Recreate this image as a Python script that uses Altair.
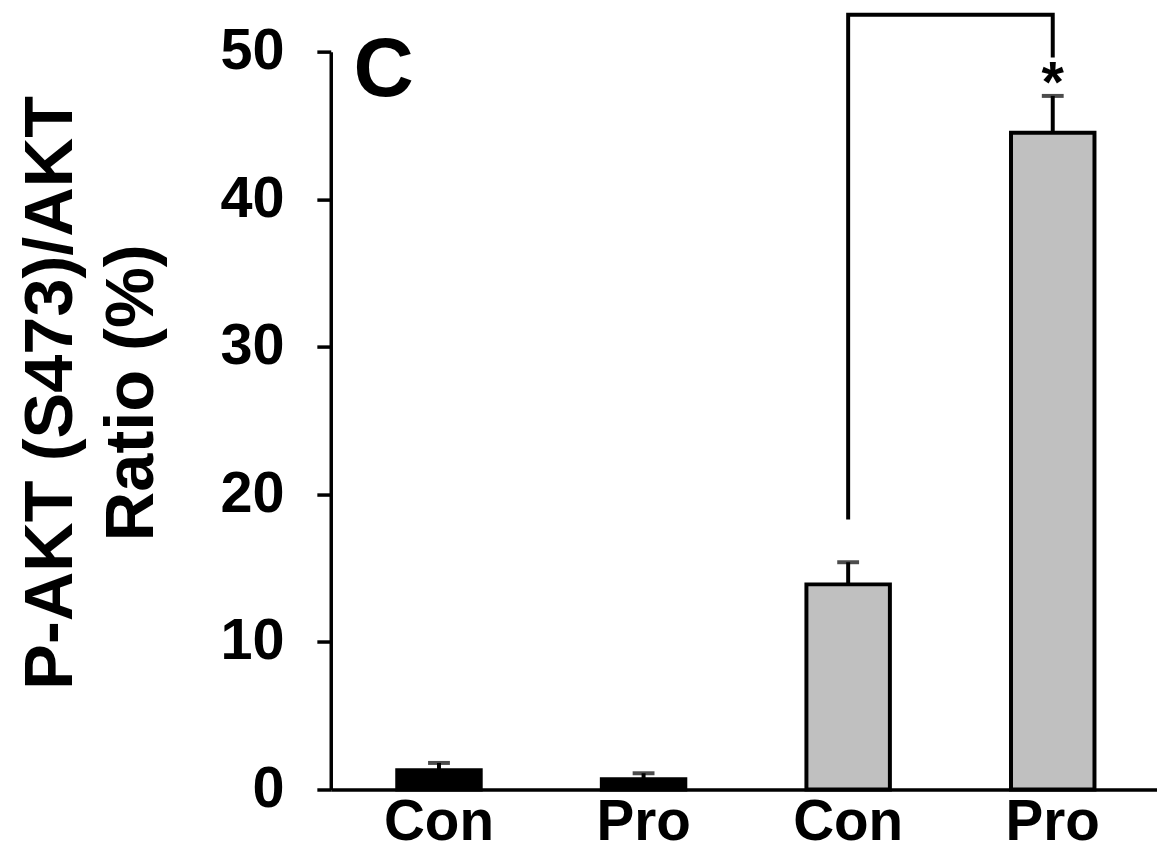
import json
import altair as alt
import pandas as pd

# ---- data ----
bar_ids = ["Con1", "Pro1", "Con2", "Pro2"]
bar_labels = ["Con", "Pro", "Con", "Pro"]
means = [1.3, 0.7, 13.9, 44.5]
errors = [0.5, 0.4, 1.5, 2.5]
fills = ["#000000", "#000000", "#c0c0c0", "#c0c0c0"]

bracket_ids = ["Con2", "Con2", "Pro2", "Pro2"]
bracket_vals = [18.3, 52.5, 52.5, 49.6]
star_ids = ["Pro2"]
star_vals = [48.3]
star_text = ["*"]

y_ticks = [0, 10, 20, 30, 40, 50]
y_title = ["P-AKT (S473)/AKT", "Ratio (%)"]
panel_label = "C"

FONT = "Liberation Sans"

bars = pd.DataFrame({
    "id": bar_ids,
    "label": bar_labels,
    "mean": means,
    "top": [m + e for m, e in zip(means, errors)],
})
bracket = pd.DataFrame({"id": bracket_ids, "v": bracket_vals, "order": list(range(len(bracket_ids)))})
star = pd.DataFrame({"id": star_ids, "v": star_vals, "t": star_text})

label_map = json.dumps(dict(zip(bar_ids, bar_labels)))

x_enc = alt.X(
    "id:N",
    sort=bar_ids,
    scale=alt.Scale(domain=bar_ids, range=[0, 836], paddingInner=0.592, paddingOuter=0.325),
    axis=alt.Axis(
        title=None,
        labelExpr=f"{label_map}[datum.value]",
        labelAngle=0,
        ticks=False,
        tickSize=0,
        labelPadding=5,
        labelFontSize=57,
        labelFontWeight="bold",
        labelFont=FONT,
        labelColor="black",
        domainColor="black",
        domainWidth=3.5,
        grid=False,
    ),
)

y_scale = alt.Scale(domain=[0, 50], nice=False, zero=True)

bar_layer = alt.Chart(bars).mark_bar(stroke="black", strokeWidth=4).encode(
    x=x_enc,
    y=alt.Y(
        "mean:Q",
        scale=y_scale,
        axis=alt.Axis(
            values=y_ticks,
            title=y_title,
            titleFont=FONT,
            titleFontSize=69,
            titleFontWeight="bold",
            titleColor="black",
            titleAngle=-90,
            titleAlign="center",
            titleBaseline="alphabetic",
            titleLineHeight=82,
            titleX=-261,
            titleY=343,
            labelFontSize=58,
            labelFontWeight="bold",
            labelFont=FONT,
            labelColor="black",
            labelPadding=33,
            tickSize=14,
            tickWidth=3.5,
            tickColor="black",
            domainColor="black",
            domainWidth=3.5,
            grid=False,
        ),
    ),
    color=alt.Color("id:N", scale=alt.Scale(domain=bar_ids, range=fills), legend=None),
)

err_rule = alt.Chart(bars).mark_rule(color="black", strokeWidth=4).encode(
    x=alt.X("id:N", sort=bar_ids),
    y=alt.Y("mean:Q", scale=y_scale),
    y2="top:Q",
)

err_cap = alt.Chart(bars).mark_tick(color="black", thickness=4, size=22, orient="horizontal").encode(
    x=alt.X("id:N", sort=bar_ids),
    y=alt.Y("top:Q", scale=y_scale),
)

bracket_line = alt.Chart(bracket).mark_line(color="black", strokeWidth=4, strokeJoin="miter").encode(
    x=alt.X("id:N", sort=bar_ids),
    y=alt.Y("v:Q", scale=y_scale),
    order="order:Q",
)

star_layer = alt.Chart(star).mark_text(
    font=FONT, fontSize=58, fontWeight="bold", color="black", baseline="alphabetic", dy=25
).encode(
    x=alt.X("id:N", sort=bar_ids),
    y=alt.Y("v:Q", scale=y_scale),
    text="t:N",
)

chart = (
    alt.layer(bar_layer, err_rule, err_cap, bracket_line, star_layer)
    .properties(
        width=832,
        height=743,
        background="white",
        autosize=alt.AutoSizeParams(type="none"),
        padding={"left": 325, "top": 41, "right": 0, "bottom": 61},
        title=alt.TitleParams(
            panel_label,
            anchor="start",
            frame="group",
            font=FONT,
            fontSize=84,
            fontWeight="bold",
            color="black",
            dx=23,
            dy=108,
            offset=0,
        ),
    )
    .configure_view(strokeWidth=0)
    .configure_axis(grid=False)
)

chart.save("out.html", embed_options={"renderer": "svg", "actions": False})
